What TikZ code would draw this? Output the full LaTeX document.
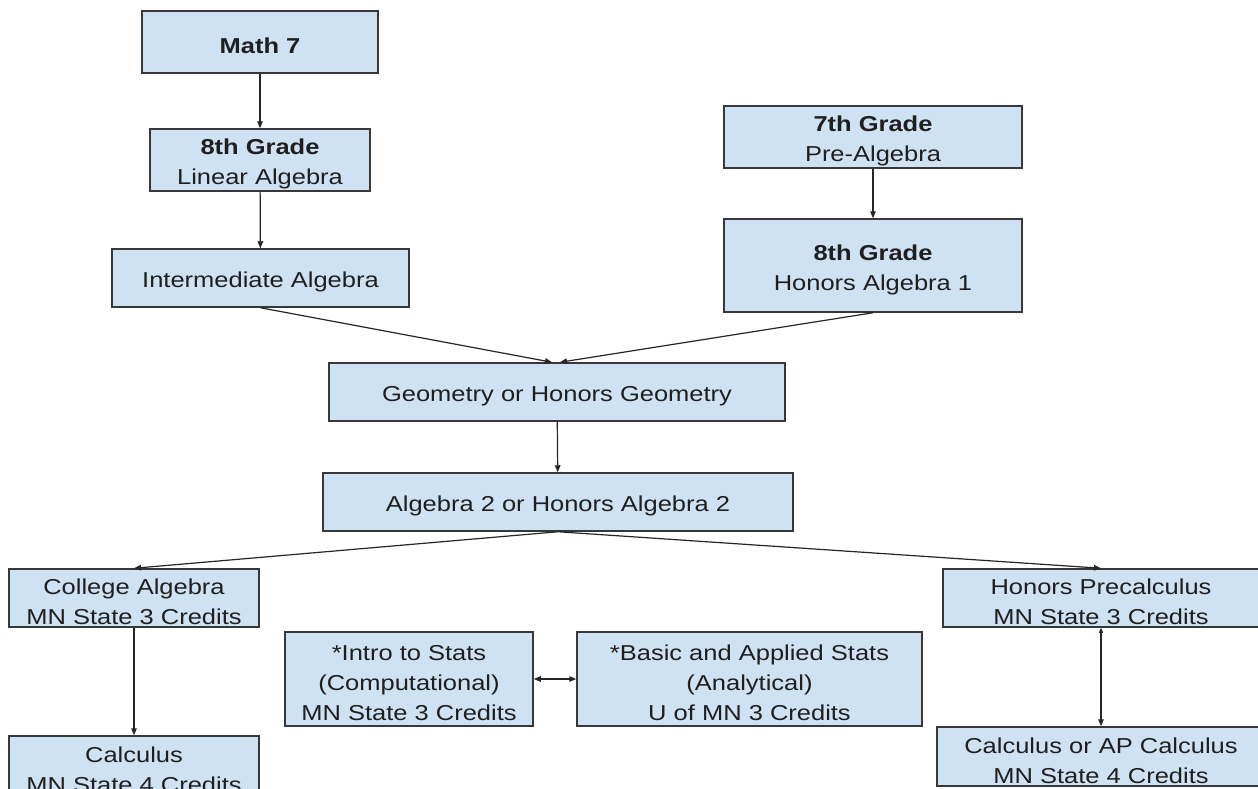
\documentclass[tikz,border=0pt]{standalone}
\usepackage{fontspec}
\setmainfont{Liberation Sans}[FakeStretch=1.18]
\usepackage{tikz}
\usetikzlibrary{arrows.meta}
\definecolor{boxblue}{HTML}{CFE2F3}
\definecolor{boxline}{HTML}{383838}
\newcommand{\topline}{\rule{0pt}{23.5pt}}

\begin{document}
\begin{tikzpicture}[x=1pt,y=-1pt,
		course/.style={draw=boxline, line width=1.5pt, fill=boxblue, inner sep=0pt, align=center, text=black!88, font=\fontsize{21.6}{30}\selectfont},
		link/.style={-{Triangle[length=7pt,width=5.5pt]}, line width=1.2pt, draw=black!85}]
		\useasboundingbox (0,0) rectangle (1258,788);
		\clip (0,0) rectangle (1258,788);
		\fill[white] (0,0) rectangle (1258,788);
		% left column
		\node (mathseven) at (260,42)[course, minimum width=236, minimum height=62]{\topline\textbf{Math 7}} ;
		\node (linalg) at (260,160)[course, minimum width=220, minimum height=62]{\topline\textbf{8th Grade}\\Linear Algebra} ;
		\node (interalg) at (260.5,278)[course, minimum width=297, minimum height=58]{\topline Intermediate Algebra} ;
		% right column
		\node (prealg) at (873,137)[course, minimum width=298, minimum height=62]{\topline\textbf{7th Grade}\\Pre-Algebra} ;
		\node (honalg) at (873,265.5)[course, minimum width=298, minimum height=93]{\topline\textbf{8th Grade}\\Honors Algebra 1} ;
		% middle
		\node (geom) at (557,392)[course, minimum width=456, minimum height=58]{\topline Geometry or Honors Geometry} ;
		\node (algtwo) at (558,502)[course, minimum width=470, minimum height=58]{\topline Algebra 2 or Honors Algebra 2} ;
		% bottom row
		\node (colalg) at (134,598)[course, minimum width=250, minimum height=58]{\topline College Algebra\\MN State 3 Credits} ;
		\node (calc) at (134,766)[course, minimum width=250, minimum height=60]{\topline Calculus\\MN State 4 Credits} ;
		\node (introstats) at (409,679)[course, minimum width=248, minimum height=94]{\topline*Intro to Stats\\(Computational)\\MN State 3 Credits} ;
		\node (basicstats) at (749.5,679)[course, minimum width=345, minimum height=94]{\topline*Basic and Applied Stats\\(Analytical)\\U of MN 3 Credits} ;
		\node (precalc) at (1101,598)[course, minimum width=316, minimum height=58]{\topline Honors Precalculus\\MN State 3 Credits} ;
		\node (apcalc) at (1101,756.5)[course, minimum width=328, minimum height=59]{\topline Calculus or AP Calculus\\MN State 4 Credits} ;

		\draw[link] (mathseven) -- (linalg) ;
		\draw[link] (linalg) -- (interalg) ;
		\draw[link] (prealg) -- (honalg) ;
		\draw[link] (interalg.south) -- ([xshift=-5pt]geom.north) ;
		\draw[link] (honalg.south) -- ([xshift=3pt]geom.north) ;
		\draw[link] (geom) -- (algtwo) ;
		\draw[link] (algtwo.south) -- (colalg.north) ;
		\draw[link] (algtwo.south) -- (precalc.north) ;
		\draw[link] (colalg) -- (calc) ;
		\draw[link, {Triangle[length=5pt,width=4pt]}-{Triangle[length=7pt,width=5.5pt]}] (precalc) -- (apcalc) ;
		\draw[link, {Triangle[length=7pt,width=5.5pt]}-{Triangle[length=7pt,width=5.5pt]}] (introstats) -- (basicstats) ;
\end{tikzpicture}
\end{document}
